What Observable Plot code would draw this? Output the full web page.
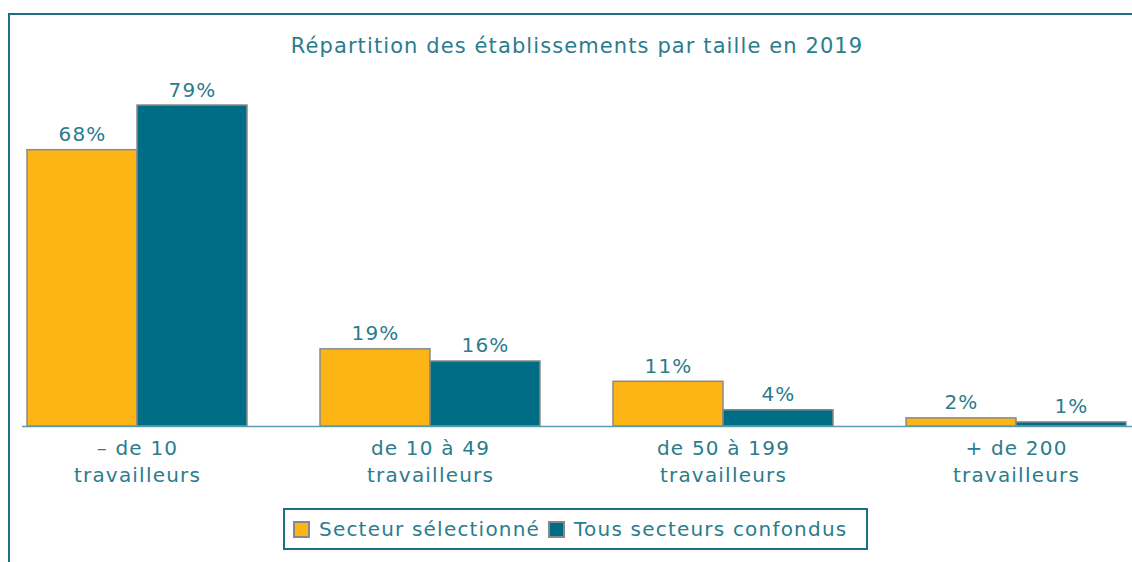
<!DOCTYPE html>
<html><head><meta charset="utf-8">
<script src="https://cdn.jsdelivr.net/npm/d3@7"></script>
<script src="https://cdn.jsdelivr.net/npm/@observablehq/plot@0.6"></script>
<style>
body{margin:0;background:#fff;font-family:"DejaVu Sans",sans-serif;overflow:hidden;}
#frame{position:absolute;left:8px;top:13px;width:1140px;height:600px;border-left:2px solid #1e6f85;border-top:2px solid #1e6f85;box-sizing:border-box;}
#title{position:absolute;left:0;width:1154px;top:34px;text-align:center;font-size:21px;color:#2a7c8e;letter-spacing:1.1px;}
#chart{position:absolute;left:0;top:0;}
#legend{position:absolute;left:283px;top:508px;width:585px;height:42px;box-sizing:border-box;border:2px solid #1e6f85;display:flex;align-items:center;font-size:20px;color:#2a7c8e;letter-spacing:1.2px;padding-left:6px;white-space:nowrap;}
.sw{display:inline-block;width:17px;height:17px;border:2px solid #888;margin-right:9px;margin-left:2px;box-sizing:border-box;}
</style></head>
<body>
<div id="frame"></div>
<div id="title"></div>
<div id="chart"></div>
<div id="legend"></div>
<script>
const title = "Répartition des établissements par taille en 2019";
const categories = ["– de 10\ntravailleurs", "de 10 à 49\ntravailleurs", "de 50 à 199\ntravailleurs", "+ de 200\ntravailleurs"];
const series = ["Secteur sélectionné", "Tous secteurs confondus"];
const secteur = [68, 19, 11, 2];
const tous = [79, 16, 4, 1];
const colors = ["#fdb515", "#006d86"];

const text = "#2a7c8e";
const rows = [];
categories.forEach((c, i) => {
  rows.push({cat: c, series: series[0], v: secteur[i]});
  rows.push({cat: c, series: series[1], v: tous[i]});
});

document.getElementById("title").textContent = title;

const half = 110;
const chart = Plot.plot({
  width: 1132, height: 500,
  marginLeft: 22, marginRight: 0, marginTop: 105, marginBottom: 74,
  style: {fontFamily: "DejaVu Sans, sans-serif", background: "transparent", overflow: "visible"},
  x: {domain: categories, range: [26, 1127], paddingInner: 0.25, paddingOuter: 0},
  y: {domain: [0, 79], axis: null},
  color: {domain: series, range: colors},
  marks: [
    Plot.barY(rows.filter(d => d.series === series[0]), {x: "cat", y: "v", fill: "series", stroke: "#8a8a8a", strokeWidth: 1.5, insetRight: half}),
    Plot.barY(rows.filter(d => d.series === series[1]), {x: "cat", y: "v", fill: "series", stroke: "#8a8a8a", strokeWidth: 1.5, insetLeft: half}),
    Plot.ruleY([0], {stroke: "#5b9cae", strokeWidth: 1.5}),
    Plot.text(rows.filter(d => d.series === series[0]), {x: "cat", y: "v", text: d => d.v + "%", dx: -55, dy: -9, lineAnchor: "bottom", fill: text, fontSize: 20}),
    Plot.text(rows.filter(d => d.series === series[1]), {x: "cat", y: "v", text: d => d.v + "%", dx: 55, dy: -9, lineAnchor: "bottom", fill: text, fontSize: 20}),
    Plot.axisX({tickSize: 0, tickPadding: 9, fontSize: 20, lineHeight: 1.35, fill: text, label: null})
  ]
});
document.getElementById("chart").appendChild(chart);
chart.querySelectorAll("text").forEach(t => t.style.letterSpacing = "1.2px");

const lg = document.getElementById("legend");
series.forEach((s, i) => {
  const sw = document.createElement("span");
  sw.className = "sw"; sw.style.background = colors[i];
  const t = document.createElement("span");
  t.textContent = s; t.style.marginRight = "6px";
  lg.appendChild(sw); lg.appendChild(t);
});
</script>
</body></html>
